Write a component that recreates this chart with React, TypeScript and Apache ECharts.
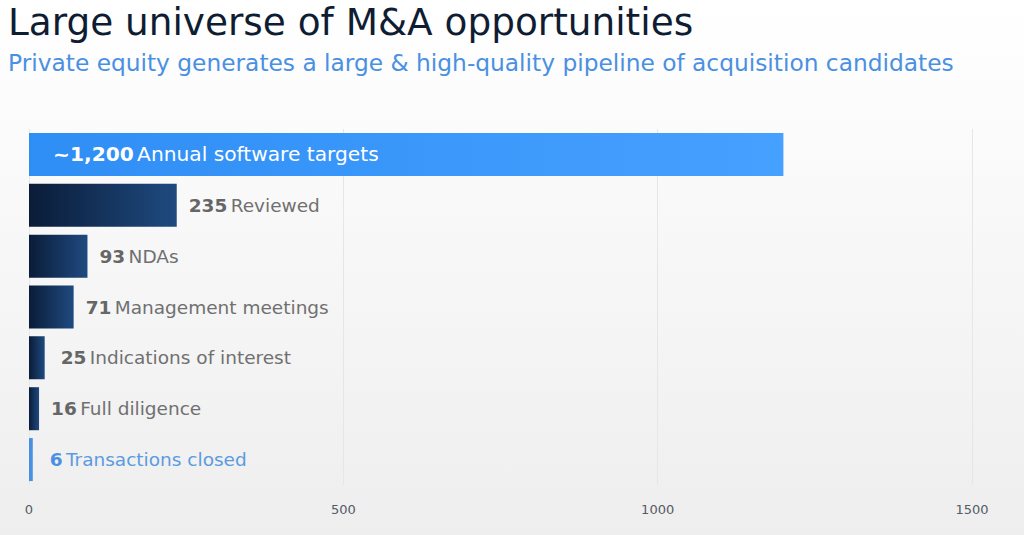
import React, { useEffect, useRef } from "react";
import * as echarts from "echarts";

const categories = [
  "Annual software targets",
  "Reviewed",
  "NDAs",
  "Management meetings",
  "Indications of interest",
  "Full diligence",
  "Transactions closed",
];
const values = [1200, 235, 93, 71, 25, 16, 6];
const valueLabels = ["~1,200", "235", "93", "71", "25", "16", "6"];
const xTicks = [0, 500, 1000, 1500];

const FONT = "DejaVu Sans";

export default function App() {
  const ref = useRef<HTMLDivElement>(null);
  useEffect(() => {
    if (!ref.current) return;
    const chart = echarts.init(ref.current, null, { renderer: "svg" });
    const navy = new echarts.graphic.LinearGradient(0, 0, 1, 0, [
      { offset: 0, color: "#0a1c38" },
      { offset: 1, color: "#1f4a80" },
    ]);
    const data = values.map((v, i) => {
      const first = i === 0;
      const last = i === values.length - 1;
      let color: any = navy;
      if (first)
        color = new echarts.graphic.LinearGradient(0, 0, 1, 0, [
          { offset: 0, color: "#2f8ef5" },
          { offset: 1, color: "#46a0ff" },
        ]);
      if (last) color = "#4a90e2";
      const fmt = "{v|" + valueLabels[i] + "} {n|" + categories[i] + "}";
      return {
        value: v,
        itemStyle: { color },
        label: first
          ? {
              position: "insideLeft",
              distance: 24,
              formatter: fmt,
              rich: {
                v: { fontFamily: FONT, fontSize: 20.2, fontWeight: "bold", color: "#ffffff" },
                n: { fontFamily: FONT, fontSize: 20.2, color: "#ffffff" },
              },
            }
          : last
          ? {
              position: "right",
              distance: 17,
              formatter: fmt,
              rich: {
                v: { fontFamily: FONT, fontSize: 18.5, fontWeight: "bold", color: "#4a90e2" },
                n: { fontFamily: FONT, fontSize: 18.5, color: "#5b9be0" },
              },
            }
          : {
              position: "right",
              distance: i === 4 ? 16 : 12,
              formatter: fmt,
              rich: {
                v: { fontFamily: FONT, fontSize: 18.5, fontWeight: "bold", color: "#666666" },
                n: { fontFamily: FONT, fontSize: 18.5, color: "#707070" },
              },
            },
      };
    });
    chart.setOption({
      animation: false,
      backgroundColor: new echarts.graphic.LinearGradient(0, 0, 0, 1, [
        { offset: 0, color: "#ffffff" },
        { offset: 0.25, color: "#fbfbfb" },
        { offset: 1, color: "#eeeeee" },
      ]),
      title: [
        {
          text: "Large universe of M&A opportunities",
          left: 8,
          top: 3,
          padding: 0,
          textStyle: { fontFamily: FONT, fontSize: 37.4, fontWeight: "normal", color: "#0f1d33" },
        },
        {
          text: "Private equity generates a large & high-quality pipeline of acquisition candidates",
          left: 8,
          top: 51,
          padding: 0,
          textStyle: { fontFamily: FONT, fontSize: 23.3, fontWeight: "normal", color: "#4a90e2" },
        },
      ],
      grid: { left: 29, right: 52, top: 129, bottom: 50, containLabel: false },
      xAxis: {
        type: "value",
        min: 0,
        max: 1500,
        interval: 500,
        axisLine: { show: false },
        axisTick: { show: false },
        splitLine: { show: true, lineStyle: { color: "#e6e6e6", width: 1 } },
        axisLabel: {
          fontFamily: FONT,
          fontSize: 13,
          color: "#555a66",
          margin: 18,
          formatter: (v: number) => (xTicks.includes(v) ? String(v) : ""),
        },
      },
      yAxis: {
        type: "category",
        inverse: true,
        data: categories,
        axisLine: { show: false },
        axisTick: { show: false },
        axisLabel: { show: false },
        splitLine: { show: false },
      },
      series: [
        {
          type: "bar",
          data,
          barWidth: 43,
          label: { show: true },
        },
      ],
    });
    return () => chart.dispose();
  }, []);
  return <div ref={ref} style={{ width: 1024, height: 535, position: "absolute", left: 0, top: 0 }} />;
}
